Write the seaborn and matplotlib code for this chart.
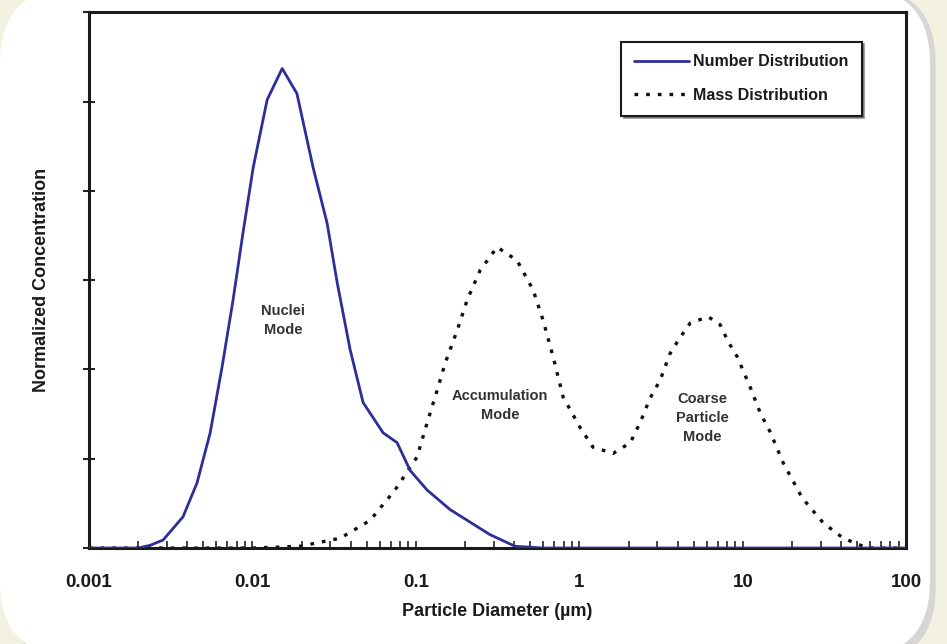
import numpy as np
import pandas as pd
import seaborn as sns
import matplotlib.pyplot as plt
from matplotlib.patches import FancyBboxPatch
from matplotlib.ticker import LogLocator, NullFormatter, FixedLocator

# Number distribution (nuclei mode)
num_diam = [0.001, 0.0015, 0.0020, 0.00236, 0.00284, 0.00376, 0.00458, 0.00551, 0.00652,
            0.00761, 0.00875, 0.0101, 0.0123, 0.0152, 0.0187, 0.0235, 0.0286, 0.0330,
            0.0396, 0.0475, 0.0630, 0.0767, 0.0921, 0.117, 0.162, 0.284, 0.404,
            0.6, 1, 10, 100]
num_conc = [0.0, 0.0, 0.0, 0.03, 0.09, 0.35, 0.73, 1.29, 2.03,
            2.78, 3.53, 4.26, 5.02, 5.37, 5.09, 4.26, 3.64, 2.97,
            2.22, 1.63, 1.29, 1.18, 0.87, 0.65, 0.43, 0.15, 0.02,
            0.0, 0.0, 0.0, 0.0]

# Mass distribution (accumulation + coarse modes)
mass_diam = [0.001, 0.01, 0.0196, 0.0344, 0.0525, 0.0745, 0.1016, 0.117, 0.135,
             0.151, 0.179, 0.206, 0.247, 0.314, 0.416, 0.521, 0.600, 0.691,
             0.796, 1.01, 1.21, 1.61, 2.05, 2.36, 2.71, 3.12, 3.59,
             4.14, 4.77, 6.14, 7.27, 8.14, 9.25, 11.1, 12.8, 14.7,
             17.7, 23.1, 31.1, 41.2, 57.8, 100]
mass_conc = [0.0, 0.0, 0.02, 0.11, 0.31, 0.65, 1.02, 1.40, 1.77,
             2.07, 2.44, 2.78, 3.11, 3.37, 3.22, 2.89, 2.55, 2.14,
             1.69, 1.35, 1.13, 1.06, 1.18, 1.41, 1.68, 1.88, 2.18,
             2.36, 2.52, 2.59, 2.50, 2.31, 2.14, 1.80, 1.51, 1.30,
             0.95, 0.56, 0.28, 0.11, 0.0, 0.0]

x_ticks = [0.001, 0.01, 0.1, 1, 10, 100]
x_tick_labels = ["0.001", "0.01", "0.1", "1", "10", "100"]

sns.set_style("white")
plt.rcParams["font.family"] = ["Liberation Sans", "DejaVu Sans"]

fig = plt.figure(figsize=(9.47, 6.44), dpi=100)
fig.patch.set_facecolor("#f3f1df")

# rounded white card behind the chart
shadow = FancyBboxPatch((0.006, -0.03), 0.982, 1.05, boxstyle="round,pad=0,rounding_size=0.08",
                        transform=fig.transFigure, facecolor="#d6d6d6", edgecolor="none",
                        mutation_aspect=947 / 644, zorder=-3)
card = FancyBboxPatch((0.0, -0.02), 0.982, 1.04, boxstyle="round,pad=0,rounding_size=0.08",
                      transform=fig.transFigure, facecolor="white", edgecolor="none",
                      mutation_aspect=947 / 644, zorder=-2)
fig.patches.extend([shadow, card])

ax = fig.add_axes([0.094, 0.149, 0.863, 0.832])
ax.set_facecolor("white")

num_df = pd.DataFrame({"diameter": num_diam, "conc": num_conc})
mass_df = pd.DataFrame({"diameter": mass_diam, "conc": mass_conc})

sns.lineplot(data=num_df, x="diameter", y="conc", ax=ax, color="#2b2f96",
             linewidth=2, label="Number Distribution", zorder=3)
sns.lineplot(data=mass_df, x="diameter", y="conc", ax=ax, color="#111111",
             linewidth=2.4, linestyle=(0, (1.1, 2.4)), label="Mass Distribution", zorder=2)

ax.set_xscale("log")
ax.set_xlim(0.001, 100)
ax.set_ylim(0, 6)

ax.xaxis.set_major_locator(FixedLocator(x_ticks))
ax.set_xticklabels(x_tick_labels, fontsize=13.5, fontweight="bold", color="#1a1a1a")
ax.xaxis.set_minor_locator(LogLocator(base=10, subs=np.arange(2, 10)))
ax.xaxis.set_minor_formatter(NullFormatter())
ax.tick_params(axis="x", which="major", direction="in", length=5, width=1.2,
               color="#222222", bottom=True, pad=19)
ax.tick_params(axis="x", which="minor", direction="in", length=5, width=1.2,
               color="#222222", bottom=True)

ax.set_yticks(range(0, 7))
ax.set_yticklabels([])
ax.tick_params(axis="y", which="major", direction="inout", length=9, width=1.5, color="#222222", left=True)

for side in ["left", "right", "top", "bottom"]:
    ax.spines[side].set_visible(True)
    ax.spines[side].set_color("#1a1a1a")
    ax.spines[side].set_linewidth(2.2)

ax.set_xlabel("Particle Diameter (\u00b5m)", fontsize=13, fontweight="bold", color="#1a1a1a", labelpad=8)
ax.set_ylabel("Normalized Concentration", fontsize=13, fontweight="bold", color="#1a1a1a", labelpad=20)

ann = dict(fontsize=10.5, fontweight="bold", color="#333333", ha="center", va="center", linespacing=1.45)
ax.text(0.0154, 2.55, "Nuclei\nMode", **ann)
ax.text(0.327, 1.6, "Accumulation\nMode", **ann)
ax.text(5.65, 1.46, "Coarse\nParticle\nMode", **ann)

leg = ax.legend(loc="upper right", bbox_to_anchor=(0.955, 0.96), fontsize=11.5,
                frameon=True, fancybox=False, shadow=True, handlelength=3.4,
                labelspacing=1.15, borderpad=0.8, handletextpad=0.3)
leg.get_frame().set_edgecolor("#1a1a1a")
leg.get_frame().set_linewidth(1.5)
for t in leg.get_texts():
    t.set_fontweight("bold")
    t.set_color("#1a1a1a")

fig.savefig("out.png", dpi=100, facecolor=fig.get_facecolor())
